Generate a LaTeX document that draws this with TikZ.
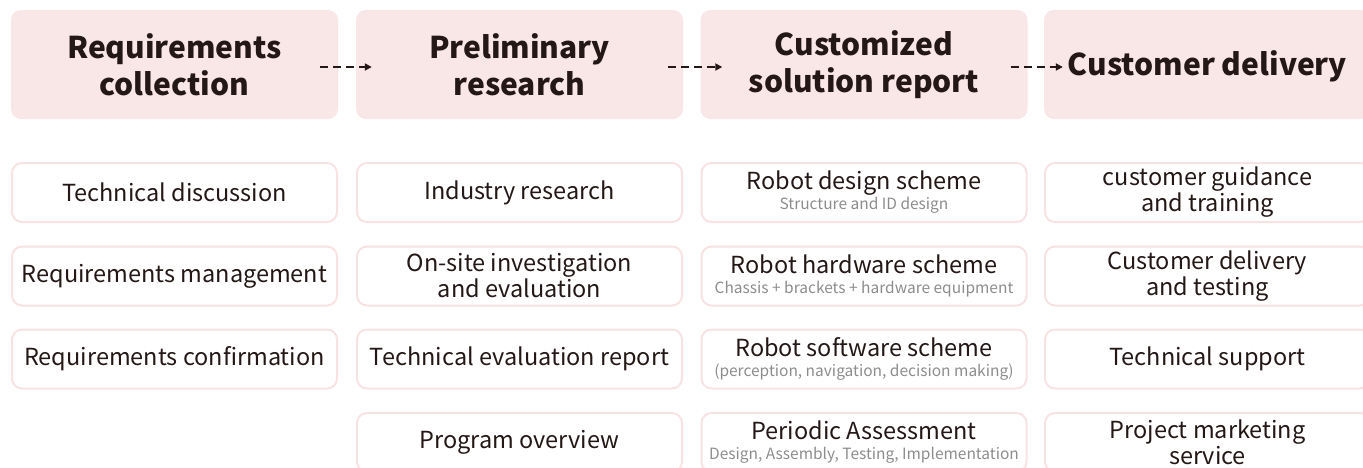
\documentclass[tikz,border=0pt]{standalone}
\usepackage{fontspec}
\setmainfont{Noto Sans CJK SC}
\usetikzlibrary{arrows.meta}

\definecolor{headpink}{HTML}{F9E6E6}
\definecolor{edgepink}{HTML}{F8E2E2}
\definecolor{inkblack}{HTML}{231815}
\definecolor{notegray}{HTML}{8C8C8C}
\newcommand{\subnote}[1]{{\fontsize{15.5}{17}\selectfont\color{notegray}#1}}

\begin{document}
\begin{tikzpicture}[x = 1pt,
                    y = -1pt,
                    head/.style = {fill=headpink, rounded corners=10pt,
                                   minimum width=327pt, minimum height=109pt,
                                   align=center, text=inkblack,
                                   font=\fontsize{30}{37}\selectfont\bfseries},
                    item/.style = {draw=edgepink, line width=2pt, rounded corners=10pt,
                                   minimum width=325pt, minimum height=59pt,
                                   align=center, text=inkblack,
                                   font=\fontsize{23.5}{26}\selectfont},
                    flow/.style = {inkblack, line width=2.4pt, dash pattern=on 8pt off 5pt,
                                   -{Triangle[length=7pt,width=7pt]}}]
\useasboundingbox (0,0) rectangle (1363,467);
\clip (0,0) rectangle (1363,467);

\node[head] (collect)  at (174.5,64.5) {Requirements\\collection};
\node[head] (research) at (519.5,64.5) {Preliminary\\research};
\node[head] (report)   at (864,64.5)   {Customized\\solution report};
\node[head, text height=28pt, text depth=6pt] (delivery) at (1207.5,64.5) {Customer delivery};

\draw[flow] ([shift={(-18,2.5)}]collect.east)  -- ([shift={(16,2.5)}]research.west);
\draw[flow] ([shift={(-15,2.5)}]research.east) -- ([shift={(22,2.5)}]report.west);
\draw[flow] ([shift={(-17,2.5)}]report.east)   -- ([shift={(19,2.5)}]delivery.west);

% requirements collection
\node[item] (discuss)  at (174.5,192.5) {Technical discussion};
\node[item] (manage)   at (174.5,276)   {Requirements management};
\node[item] (confirm)  at (174.5,359)   {Requirements confirmation};

% preliminary research
\node[item] (industry) at (519.5,192.5) {Industry research};
\node[item] (onsite)   at (519.5,276)   {On-site investigation\\and evaluation};
\node[item] (techeval) at (519.5,359)   {Technical evaluation report};
\node[item] (overview) at (519.5,442.5) {Program overview};

% solution report
\node[item] (design)   at (864,192.5) {Robot design scheme\\[-6pt]\subnote{Structure and ID design}};
\node[item] (hardware) at (864,276)   {Robot hardware scheme\\[-6pt]\subnote{Chassis + brackets + hardware equipment}};
\node[item] (software) at (864,359)   {Robot software scheme\\[-6pt]\subnote{(perception, navigation, decision making)}};
\node[item] (assess)   at (864,442.5) {Periodic Assessment\\[-6pt]\subnote{Design, Assembly, Testing, Implementation}};

% delivery
\node[item] (guidance) at (1207.5,192.5) {customer guidance\\and training};
\node[item] (testing)  at (1207.5,276)   {Customer delivery\\and testing};
\node[item] (support)  at (1207.5,359)   {Technical support};
\node[item] (market)   at (1207.5,442.5) {Project marketing\\service};

\end{tikzpicture}
\end{document}
